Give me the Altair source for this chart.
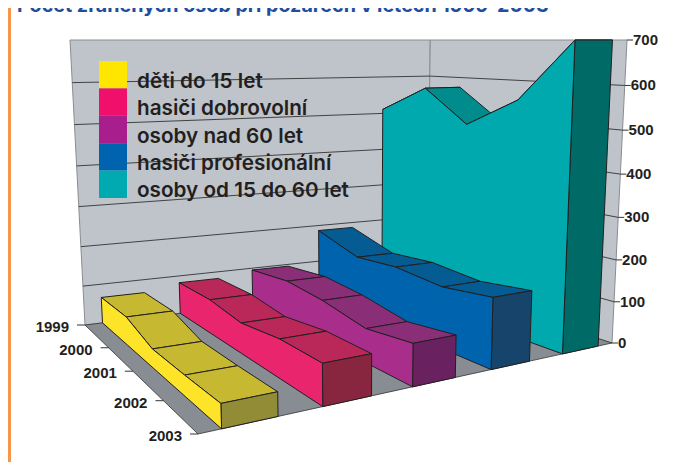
import altair as alt
import numpy as np
import pandas as pd

years = ["1999", "2000", "2001", "2002", "2003"]
series = ["děti do 15 let", "hasiči dobrovolní", "osoby nad 60 let", "hasiči profesionální", "osoby od 15 do 60 let"]
deti = [66, 68, 43, 45, 49]
dobrovolni = [82, 84, 72, 87, 88]
nad60 = [95, 107, 98, 78, 93]
profesionalni = [186, 148, 156, 146, 161]
od15 = [511, 577, 495, 564, 700]
value_ticks = [0, 100, 200, 300, 400, 500, 600, 700]

legend_colors = ["#ffe600", "#f00f6b", "#a81e8c", "#0063b0", "#00aab0"]
side_colors = ["#fde428", "#e9266d", "#a92e8b", "#0063ad", "#00a9ae"]
top_colors = ["#c7b832", "#b92859", "#8b2e78", "#045c92", "#008c8c"]
end_colors = ["#938c37", "#88263f", "#6a2160", "#16446a", "#006b66"]
all_values = [deti, dobrovolni, nad60, profesionalni, od15]

# --- perspective of the 3-D box (corners of floor, vanishing point of the verticals)
A, B, C, D = (85, 325), (198, 434), (612, 343), (427, 283)
TOP_Y = 40
VMAX = 700
band_start = [0.039, 0.225, 0.42, 0.62, 0.832]
band_end = [0.139, 0.327, 0.525, 0.73, 0.951]
ts = [0, 0.28, 0.52, 0.77, 1]


def homography(dst):
    src = [(0, 0), (0, 1), (1, 1), (1, 0)]
    M, r = [], []
    for (s, t), (x, y) in zip(src, dst):
        M.append([s, t, 1, 0, 0, 0, -s * x, -t * x]); r.append(x)
        M.append([0, 0, 0, s, t, 1, -s * y, -t * y]); r.append(y)
    h = np.linalg.solve(np.array(M, float), np.array(r, float))
    return np.append(h, 1).reshape(3, 3)


H = homography([A, B, C, D])
# vertical vanishing point: the left and right wall edges lean outwards
m1, m2 = (85 - 70) / (325 - 40), (612 - 627) / (343 - 40)
Vy = (612 - 343 * m2 - 85 + 325 * m1) / (m1 - m2)
Vx = 85 + m1 * (Vy - 325)


def proj(s, t, v):
    p = H @ np.array([s, t, 1.0])
    x0, y0 = p[0] / p[2], p[1] / p[2]
    l = (TOP_Y - y0) / (Vy - TOP_Y) * (v / VMAX)
    return (x0 + l * Vx) / (1 + l), (y0 + l * Vy) / (1 + l)


def add(rows, pts, fill):
    pid = len({r["pid"] for r in rows})
    closed = list(pts) + [pts[0]]
    for i, (x, y) in enumerate(closed):
        rows.append({"pid": f"{pid:03d}", "i": i, "x": float(x), "y": float(y), "fill": fill})


walls, floor, ribbons, grid = [], [], [], []
add(walls, [proj(0, 0, 0), proj(1, 0, 0), proj(1, 0, VMAX), proj(0, 0, VMAX)], "#bfc3ca")
add(walls, [proj(1, 0, 0), proj(1, 1, 0), proj(1, 1, VMAX), proj(1, 0, VMAX)], "#bfc3ca")
add(floor, [proj(0, 0, 0), proj(0, 1, 0), proj(1, 1, 0), proj(1, 0, 0)], "#878d92")

gid = 0
for v in value_ticks[1:-1]:
    for a, b in [(proj(0, 0, v), proj(1, 0, v)), (proj(1, 0, v), proj(1, 1, v))]:
        grid.append({"g": gid, "i": 0, "x": a[0], "y": a[1]})
        grid.append({"g": gid, "i": 1, "x": b[0], "y": b[1]})
        gid += 1

for k in range(4, -1, -1):
    s0, s1 = band_start[k], band_end[k]
    vals = all_values[k]
    for j in range(4):
        add(ribbons, [proj(s0, ts[j], vals[j]), proj(s1, ts[j], vals[j]),
                      proj(s1, ts[j + 1], vals[j + 1]), proj(s0, ts[j + 1], vals[j + 1])], top_colors[k])
    add(ribbons, [proj(s0, 1, 0), proj(s1, 1, 0), proj(s1, 1, vals[4]), proj(s0, 1, vals[4])], end_colors[k])
    add(ribbons, [proj(s0, t, 0) for t in ts[::-1]] + [proj(s0, t, v) for t, v in zip(ts, vals)], side_colors[k])

ticks, vlabels, ylabels = [], [], []
tid = 0
for v in value_ticks:
    x, y = proj(1, 1, v)
    ticks += [{"g": tid, "i": 0, "x": x, "y": y}, {"g": tid, "i": 1, "x": x + 6, "y": y}]
    vlabels.append({"x": x + 6, "y": y, "t": str(v)})
    tid += 1
for t, yr in zip(ts, years):
    x, y = proj(0, t, 0)
    ticks += [{"g": tid, "i": 0, "x": x, "y": y}, {"g": tid, "i": 1, "x": x - 8, "y": y}]
    ylabels.append({"x": x - 16, "y": y + 2, "t": yr})
    tid += 1

X = alt.Scale(domain=[8, 672], range=[0, 664])
Y = alt.Scale(domain=[8, 462], range=[0, 454])
ex = alt.X("x:Q", scale=X, axis=None)
ey = alt.Y("y:Q", scale=Y, axis=None)


def polygons(rows, stroke, width):
    return alt.Chart(pd.DataFrame(rows)).mark_line(strokeWidth=width, strokeJoin="round", clip=False).encode(
        x=ex, y=ey, detail="pid:N", order="i:Q",
        fill=alt.Fill("fill:N", scale=None, legend=None),
        stroke=alt.value(stroke),
    )


def lines(rows, stroke, width):
    return alt.Chart(pd.DataFrame(rows)).mark_line(strokeWidth=width, color=stroke).encode(
        x=ex, y=ey, detail="g:N", order="i:Q")


orange = alt.Chart(pd.DataFrame({"x": [9.5, 9.5], "y": [0, 462], "g": [0, 0], "i": [0, 1]})).mark_line(
    strokeWidth=3, color="#f7964a").encode(x=ex, y=ey, detail="g:N", order="i:Q")

title = alt.Chart(pd.DataFrame({"x": [17], "y": [12], "t": ["Počet zraněných osob při požárech v letech 1999-2003"]})).mark_text(
    align="left", baseline="alphabetic", font="Inter", fontSize=19.7, fontWeight="bold", color="#1f4e9e").encode(
    x=ex, y=ey, text="t:N")

vtext = alt.Chart(pd.DataFrame(vlabels)).mark_text(
    align="left", baseline="middle", font="Liberation Sans", fontSize=15, fontWeight="bold", color="#231f20").encode(
    x=ex, y=ey, text="t:N")
ytext = alt.Chart(pd.DataFrame(ylabels)).mark_text(
    align="right", baseline="middle", font="Liberation Sans", fontSize=15, fontWeight="bold", color="#231f20").encode(
    x=ex, y=ey, text="t:N")

# key: one swatch and one label per series, stacked from the top
key = pd.DataFrame({
    "s": series,
    "c": legend_colors,
    "x": [99] * 5,
    "x2": [127] * 5,
    "y": [61 + 27.4 * i for i in range(5)],
    "y2": [61 + 27.4 * (i + 1) for i in range(5)],
    "tx": [137] * 5,
    "ty": [88 + 27.3 * i for i in range(5)],
})
key_swatch = alt.Chart(key).mark_rect().encode(
    x=ex, x2="x2:Q", y=ey, y2="y2:Q", fill=alt.Fill("c:N", scale=None, legend=None))
key_text = alt.Chart(key).mark_text(
    align="left", baseline="alphabetic", font="Inter", fontSize=20.7, fontWeight=600, color="#231f20").encode(
    x=alt.X("tx:Q", scale=X, axis=None), y=alt.Y("ty:Q", scale=Y, axis=None), text="s:N")

chart = alt.layer(
    orange, title,
    polygons(walls, "#8a8d90", 1), lines(grid, "#333333", 0.9),
    polygons(floor, "#333333", 0.8), polygons(ribbons, "#231f20", 1),
    lines(ticks, "#333333", 1), vtext, ytext, key_swatch, key_text,
).properties(
    width=664, height=454, padding=0, autosize=alt.AutoSizeParams(type="none"),
    background="white",
).configure_view(strokeWidth=0)

chart.save("out.html", embed_options={"renderer": "svg", "actions": False})
